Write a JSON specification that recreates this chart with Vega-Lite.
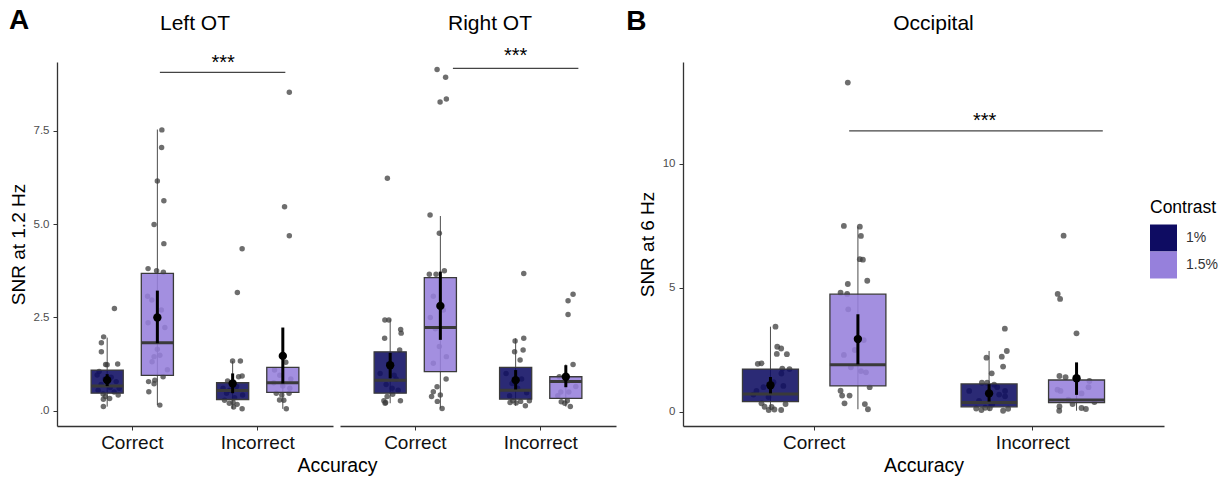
{
  "$schema": "https://vega.github.io/schema/vega-lite/v6.json",
  "padding": {"left": 9, "top": 7, "right": 5, "bottom": 2},
  "spacing": 10,
  "resolve": {"scale": {"color": "independent", "xOffset": "independent"}},
  "datasets": {
    "box": [
      {"Region": "Left OT", "Accuracy": "Correct", "Contrast": "1%", "lo": 0.11, "q1": 0.47, "med": 0.66, "q3": 1.09, "hi": 1.96, "mean": 0.82, "ciLo": 0.66, "ciHi": 0.98},
      {"Region": "Left OT", "Accuracy": "Correct", "Contrast": "1.5%", "lo": 0.15, "q1": 0.95, "med": 1.82, "q3": 3.68, "hi": 7.54, "mean": 2.5, "ciLo": 1.81, "ciHi": 3.22},
      {"Region": "Left OT", "Accuracy": "Incorrect", "Contrast": "1%", "lo": 0.05, "q1": 0.3, "med": 0.54, "q3": 0.75, "hi": 1.33, "mean": 0.73, "ciLo": 0.47, "ciHi": 1.0},
      {"Region": "Left OT", "Accuracy": "Incorrect", "Contrast": "1.5%", "lo": 0.05, "q1": 0.49, "med": 0.75, "q3": 1.16, "hi": 1.3, "mean": 1.47, "ciLo": 0.73, "ciHi": 2.23},
      {"Region": "Right OT", "Accuracy": "Correct", "Contrast": "1%", "lo": 0.2, "q1": 0.47, "med": 0.82, "q3": 1.58, "hi": 2.45, "mean": 1.22, "ciLo": 0.87, "ciHi": 1.55},
      {"Region": "Right OT", "Accuracy": "Correct", "Contrast": "1.5%", "lo": 0.06, "q1": 1.05, "med": 2.23, "q3": 3.57, "hi": 5.22, "mean": 2.81, "ciLo": 1.9, "ciHi": 3.73},
      {"Region": "Right OT", "Accuracy": "Incorrect", "Contrast": "1%", "lo": 0.13, "q1": 0.31, "med": 0.55, "q3": 1.16, "hi": 1.94, "mean": 0.82, "ciLo": 0.57, "ciHi": 1.09},
      {"Region": "Right OT", "Accuracy": "Incorrect", "Contrast": "1.5%", "lo": 0.11, "q1": 0.33, "med": 0.78, "q3": 0.91, "hi": 1.24, "mean": 0.91, "ciLo": 0.63, "ciHi": 1.22},
      {"Region": "Occipital", "Accuracy": "Correct", "Contrast": "1%", "lo": 0.08, "q1": 0.42, "med": 0.73, "q3": 1.73, "hi": 3.44, "mean": 1.08, "ciLo": 0.75, "ciHi": 1.41},
      {"Region": "Occipital", "Accuracy": "Correct", "Contrast": "1.5%", "lo": 0.11, "q1": 1.05, "med": 1.9, "q3": 4.75, "hi": 7.47, "mean": 2.94, "ciLo": 1.92, "ciHi": 3.94},
      {"Region": "Occipital", "Accuracy": "Incorrect", "Contrast": "1%", "lo": 0.05, "q1": 0.21, "med": 0.38, "q3": 1.13, "hi": 2.46, "mean": 0.75, "ciLo": 0.42, "ciHi": 1.12},
      {"Region": "Occipital", "Accuracy": "Incorrect", "Contrast": "1.5%", "lo": 0.05, "q1": 0.38, "med": 0.48, "q3": 1.29, "hi": 1.45, "mean": 1.36, "ciLo": 0.69, "ciHi": 2.0}
    ],
    "sig": [
      {"Region": "Left OT", "from": "Correct", "to": "Incorrect", "y": 9.07, "ly": 9.32, "label": "***"},
      {"Region": "Right OT", "from": "Correct", "to": "Incorrect", "y": 9.18, "ly": 9.5, "label": "***"},
      {"Region": "Occipital", "from": "Correct", "to": "Incorrect", "y": 11.33, "ly": 11.74, "label": "***"}
    ],
    "pts": [
      {"Region": "Left OT", "Accuracy": "Correct", "Contrast": "1%", "SNR": 2.74, "jitter": 0.058},
      {"Region": "Left OT", "Accuracy": "Correct", "Contrast": "1%", "SNR": 1.98, "jitter": -0.028},
      {"Region": "Left OT", "Accuracy": "Correct", "Contrast": "1%", "SNR": 1.82, "jitter": -0.046},
      {"Region": "Left OT", "Accuracy": "Correct", "Contrast": "1%", "SNR": 1.58, "jitter": -0.046},
      {"Region": "Left OT", "Accuracy": "Correct", "Contrast": "1%", "SNR": 1.24, "jitter": -0.012},
      {"Region": "Left OT", "Accuracy": "Correct", "Contrast": "1%", "SNR": 1.23, "jitter": 0},
      {"Region": "Left OT", "Accuracy": "Correct", "Contrast": "1%", "SNR": 1.25, "jitter": 0.084},
      {"Region": "Left OT", "Accuracy": "Correct", "Contrast": "1%", "SNR": 1.05, "jitter": -0.064},
      {"Region": "Left OT", "Accuracy": "Correct", "Contrast": "1%", "SNR": 0.96, "jitter": -0.08},
      {"Region": "Left OT", "Accuracy": "Correct", "Contrast": "1%", "SNR": 0.9, "jitter": 0.032},
      {"Region": "Left OT", "Accuracy": "Correct", "Contrast": "1%", "SNR": 0.85, "jitter": -0.016},
      {"Region": "Left OT", "Accuracy": "Correct", "Contrast": "1%", "SNR": 0.78, "jitter": 0.072},
      {"Region": "Left OT", "Accuracy": "Correct", "Contrast": "1%", "SNR": 0.7, "jitter": -0.048},
      {"Region": "Left OT", "Accuracy": "Correct", "Contrast": "1%", "SNR": 0.62, "jitter": 0.024},
      {"Region": "Left OT", "Accuracy": "Correct", "Contrast": "1%", "SNR": 0.55, "jitter": -0.072},
      {"Region": "Left OT", "Accuracy": "Correct", "Contrast": "1%", "SNR": 0.5, "jitter": 0.056},
      {"Region": "Left OT", "Accuracy": "Correct", "Contrast": "1%", "SNR": 0.45, "jitter": -0.032},
      {"Region": "Left OT", "Accuracy": "Correct", "Contrast": "1%", "SNR": 0.42, "jitter": 0.088},
      {"Region": "Left OT", "Accuracy": "Correct", "Contrast": "1%", "SNR": 0.38, "jitter": -0.014},
      {"Region": "Left OT", "Accuracy": "Correct", "Contrast": "1%", "SNR": 0.33, "jitter": 0.02},
      {"Region": "Left OT", "Accuracy": "Correct", "Contrast": "1%", "SNR": 0.31, "jitter": -0.03},
      {"Region": "Left OT", "Accuracy": "Correct", "Contrast": "1%", "SNR": 0.11, "jitter": -0.03},
      {"Region": "Left OT", "Accuracy": "Correct", "Contrast": "1%", "SNR": 0.6, "jitter": 0.096},
      {"Region": "Left OT", "Accuracy": "Correct", "Contrast": "1.5%", "SNR": 7.53, "jitter": 0.036},
      {"Region": "Left OT", "Accuracy": "Correct", "Contrast": "1.5%", "SNR": 7.06, "jitter": 0.034},
      {"Region": "Left OT", "Accuracy": "Correct", "Contrast": "1.5%", "SNR": 6.16, "jitter": 0},
      {"Region": "Left OT", "Accuracy": "Correct", "Contrast": "1.5%", "SNR": 5.63, "jitter": 0.052},
      {"Region": "Left OT", "Accuracy": "Correct", "Contrast": "1.5%", "SNR": 4.99, "jitter": -0.026},
      {"Region": "Left OT", "Accuracy": "Correct", "Contrast": "1.5%", "SNR": 4.48, "jitter": 0.052},
      {"Region": "Left OT", "Accuracy": "Correct", "Contrast": "1.5%", "SNR": 3.81, "jitter": -0.074},
      {"Region": "Left OT", "Accuracy": "Correct", "Contrast": "1.5%", "SNR": 3.75, "jitter": -0.006},
      {"Region": "Left OT", "Accuracy": "Correct", "Contrast": "1.5%", "SNR": 3.71, "jitter": 0.048},
      {"Region": "Left OT", "Accuracy": "Correct", "Contrast": "1.5%", "SNR": 3.07, "jitter": -0.078},
      {"Region": "Left OT", "Accuracy": "Correct", "Contrast": "1.5%", "SNR": 2.97, "jitter": -0.044},
      {"Region": "Left OT", "Accuracy": "Correct", "Contrast": "1.5%", "SNR": 2.36, "jitter": -0.074},
      {"Region": "Left OT", "Accuracy": "Correct", "Contrast": "1.5%", "SNR": 2.23, "jitter": 0.06},
      {"Region": "Left OT", "Accuracy": "Correct", "Contrast": "1.5%", "SNR": 1.65, "jitter": 0},
      {"Region": "Left OT", "Accuracy": "Correct", "Contrast": "1.5%", "SNR": 1.49, "jitter": 0.02},
      {"Region": "Left OT", "Accuracy": "Correct", "Contrast": "1.5%", "SNR": 1.45, "jitter": -0.026},
      {"Region": "Left OT", "Accuracy": "Correct", "Contrast": "1.5%", "SNR": 1.31, "jitter": -0.042},
      {"Region": "Left OT", "Accuracy": "Correct", "Contrast": "1.5%", "SNR": 0.91, "jitter": 0.046},
      {"Region": "Left OT", "Accuracy": "Correct", "Contrast": "1.5%", "SNR": 0.82, "jitter": -0.02},
      {"Region": "Left OT", "Accuracy": "Correct", "Contrast": "1.5%", "SNR": 0.78, "jitter": -0.07},
      {"Region": "Left OT", "Accuracy": "Correct", "Contrast": "1.5%", "SNR": 0.72, "jitter": -0.026},
      {"Region": "Left OT", "Accuracy": "Correct", "Contrast": "1.5%", "SNR": 0.51, "jitter": -0.068},
      {"Region": "Left OT", "Accuracy": "Correct", "Contrast": "1.5%", "SNR": 0.15, "jitter": 0.02},
      {"Region": "Left OT", "Accuracy": "Correct", "Contrast": "1.5%", "SNR": 2.7, "jitter": 0.032},
      {"Region": "Left OT", "Accuracy": "Correct", "Contrast": "1.5%", "SNR": 1.1, "jitter": 0.08},
      {"Region": "Left OT", "Accuracy": "Incorrect", "Contrast": "1%", "SNR": 4.34, "jitter": 0.076},
      {"Region": "Left OT", "Accuracy": "Incorrect", "Contrast": "1%", "SNR": 3.17, "jitter": 0.038},
      {"Region": "Left OT", "Accuracy": "Incorrect", "Contrast": "1%", "SNR": 1.33, "jitter": 0},
      {"Region": "Left OT", "Accuracy": "Incorrect", "Contrast": "1%", "SNR": 1.33, "jitter": 0.062},
      {"Region": "Left OT", "Accuracy": "Incorrect", "Contrast": "1%", "SNR": 0.93, "jitter": 0.076},
      {"Region": "Left OT", "Accuracy": "Incorrect", "Contrast": "1%", "SNR": 0.91, "jitter": 0.048},
      {"Region": "Left OT", "Accuracy": "Incorrect", "Contrast": "1%", "SNR": 0.65, "jitter": 0.032},
      {"Region": "Left OT", "Accuracy": "Incorrect", "Contrast": "1%", "SNR": 0.6, "jitter": -0.076},
      {"Region": "Left OT", "Accuracy": "Incorrect", "Contrast": "1%", "SNR": 0.55, "jitter": -0.024},
      {"Region": "Left OT", "Accuracy": "Incorrect", "Contrast": "1%", "SNR": 0.47, "jitter": -0.048},
      {"Region": "Left OT", "Accuracy": "Incorrect", "Contrast": "1%", "SNR": 0.42, "jitter": 0.08},
      {"Region": "Left OT", "Accuracy": "Incorrect", "Contrast": "1%", "SNR": 0.35, "jitter": 0.016},
      {"Region": "Left OT", "Accuracy": "Incorrect", "Contrast": "1%", "SNR": 0.22, "jitter": 0.004},
      {"Region": "Left OT", "Accuracy": "Incorrect", "Contrast": "1%", "SNR": 0.2, "jitter": -0.026},
      {"Region": "Left OT", "Accuracy": "Incorrect", "Contrast": "1%", "SNR": 0.17, "jitter": 0.036},
      {"Region": "Left OT", "Accuracy": "Incorrect", "Contrast": "1%", "SNR": 0.1, "jitter": 0.008},
      {"Region": "Left OT", "Accuracy": "Incorrect", "Contrast": "1%", "SNR": 0.05, "jitter": 0.076},
      {"Region": "Left OT", "Accuracy": "Incorrect", "Contrast": "1%", "SNR": 0.8, "jitter": -0.04},
      {"Region": "Left OT", "Accuracy": "Incorrect", "Contrast": "1%", "SNR": 0.28, "jitter": -0.064},
      {"Region": "Left OT", "Accuracy": "Incorrect", "Contrast": "1.5%", "SNR": 8.54, "jitter": 0.052},
      {"Region": "Left OT", "Accuracy": "Incorrect", "Contrast": "1.5%", "SNR": 5.47, "jitter": 0.014},
      {"Region": "Left OT", "Accuracy": "Incorrect", "Contrast": "1.5%", "SNR": 4.69, "jitter": 0.052},
      {"Region": "Left OT", "Accuracy": "Incorrect", "Contrast": "1.5%", "SNR": 1.3, "jitter": 0.024},
      {"Region": "Left OT", "Accuracy": "Incorrect", "Contrast": "1.5%", "SNR": 1.09, "jitter": -0.066},
      {"Region": "Left OT", "Accuracy": "Incorrect", "Contrast": "1.5%", "SNR": 0.95, "jitter": -0.024},
      {"Region": "Left OT", "Accuracy": "Incorrect", "Contrast": "1.5%", "SNR": 0.85, "jitter": 0.064},
      {"Region": "Left OT", "Accuracy": "Incorrect", "Contrast": "1.5%", "SNR": 0.66, "jitter": 0},
      {"Region": "Left OT", "Accuracy": "Incorrect", "Contrast": "1.5%", "SNR": 0.6, "jitter": 0.056},
      {"Region": "Left OT", "Accuracy": "Incorrect", "Contrast": "1.5%", "SNR": 0.47, "jitter": -0.052},
      {"Region": "Left OT", "Accuracy": "Incorrect", "Contrast": "1.5%", "SNR": 0.47, "jitter": 0.05},
      {"Region": "Left OT", "Accuracy": "Incorrect", "Contrast": "1.5%", "SNR": 0.42, "jitter": -0.008},
      {"Region": "Left OT", "Accuracy": "Incorrect", "Contrast": "1.5%", "SNR": 0.29, "jitter": -0.026},
      {"Region": "Left OT", "Accuracy": "Incorrect", "Contrast": "1.5%", "SNR": 0.28, "jitter": 0.008},
      {"Region": "Left OT", "Accuracy": "Incorrect", "Contrast": "1.5%", "SNR": 0.05, "jitter": 0.028},
      {"Region": "Left OT", "Accuracy": "Incorrect", "Contrast": "1.5%", "SNR": 0.75, "jitter": -0.072},
      {"Region": "Right OT", "Accuracy": "Correct", "Contrast": "1%", "SNR": 6.23, "jitter": -0.022},
      {"Region": "Right OT", "Accuracy": "Correct", "Contrast": "1%", "SNR": 2.43, "jitter": -0.042},
      {"Region": "Right OT", "Accuracy": "Correct", "Contrast": "1%", "SNR": 2.43, "jitter": -0.01},
      {"Region": "Right OT", "Accuracy": "Correct", "Contrast": "1%", "SNR": 2.18, "jitter": 0.084},
      {"Region": "Right OT", "Accuracy": "Correct", "Contrast": "1%", "SNR": 2.08, "jitter": 0.088},
      {"Region": "Right OT", "Accuracy": "Correct", "Contrast": "1%", "SNR": 1.94, "jitter": -0.044},
      {"Region": "Right OT", "Accuracy": "Correct", "Contrast": "1%", "SNR": 1.63, "jitter": 0.076},
      {"Region": "Right OT", "Accuracy": "Correct", "Contrast": "1%", "SNR": 1.25, "jitter": -0.012},
      {"Region": "Right OT", "Accuracy": "Correct", "Contrast": "1%", "SNR": 1.0, "jitter": -0.08},
      {"Region": "Right OT", "Accuracy": "Correct", "Contrast": "1%", "SNR": 0.95, "jitter": 0.032},
      {"Region": "Right OT", "Accuracy": "Correct", "Contrast": "1%", "SNR": 0.7, "jitter": -0.032},
      {"Region": "Right OT", "Accuracy": "Correct", "Contrast": "1%", "SNR": 0.6, "jitter": 0.016},
      {"Region": "Right OT", "Accuracy": "Correct", "Contrast": "1%", "SNR": 0.55, "jitter": 0.064},
      {"Region": "Right OT", "Accuracy": "Correct", "Contrast": "1%", "SNR": 0.44, "jitter": 0.02},
      {"Region": "Right OT", "Accuracy": "Correct", "Contrast": "1%", "SNR": 0.38, "jitter": -0.024},
      {"Region": "Right OT", "Accuracy": "Correct", "Contrast": "1%", "SNR": 0.27, "jitter": -0.05},
      {"Region": "Right OT", "Accuracy": "Correct", "Contrast": "1%", "SNR": 0.27, "jitter": 0.082},
      {"Region": "Right OT", "Accuracy": "Correct", "Contrast": "1%", "SNR": 0.22, "jitter": -0.036},
      {"Region": "Right OT", "Accuracy": "Correct", "Contrast": "1%", "SNR": 0.2, "jitter": -0.04},
      {"Region": "Right OT", "Accuracy": "Correct", "Contrast": "1%", "SNR": 0.85, "jitter": 0.048},
      {"Region": "Right OT", "Accuracy": "Correct", "Contrast": "1.5%", "SNR": 9.15, "jitter": -0.026},
      {"Region": "Right OT", "Accuracy": "Correct", "Contrast": "1.5%", "SNR": 8.94, "jitter": 0.042},
      {"Region": "Right OT", "Accuracy": "Correct", "Contrast": "1.5%", "SNR": 8.28, "jitter": -0.002},
      {"Region": "Right OT", "Accuracy": "Correct", "Contrast": "1.5%", "SNR": 8.36, "jitter": 0.048},
      {"Region": "Right OT", "Accuracy": "Correct", "Contrast": "1.5%", "SNR": 5.25, "jitter": -0.082},
      {"Region": "Right OT", "Accuracy": "Correct", "Contrast": "1.5%", "SNR": 4.76, "jitter": -0.008},
      {"Region": "Right OT", "Accuracy": "Correct", "Contrast": "1.5%", "SNR": 3.66, "jitter": -0.088},
      {"Region": "Right OT", "Accuracy": "Correct", "Contrast": "1.5%", "SNR": 3.66, "jitter": -0.034},
      {"Region": "Right OT", "Accuracy": "Correct", "Contrast": "1.5%", "SNR": 3.75, "jitter": 0.032},
      {"Region": "Right OT", "Accuracy": "Correct", "Contrast": "1.5%", "SNR": 3.07, "jitter": -0.056},
      {"Region": "Right OT", "Accuracy": "Correct", "Contrast": "1.5%", "SNR": 2.7, "jitter": 0.024},
      {"Region": "Right OT", "Accuracy": "Correct", "Contrast": "1.5%", "SNR": 2.5, "jitter": -0.08},
      {"Region": "Right OT", "Accuracy": "Correct", "Contrast": "1.5%", "SNR": 2.2, "jitter": -0.04},
      {"Region": "Right OT", "Accuracy": "Correct", "Contrast": "1.5%", "SNR": 1.72, "jitter": -0.008},
      {"Region": "Right OT", "Accuracy": "Correct", "Contrast": "1.5%", "SNR": 1.45, "jitter": 0.048},
      {"Region": "Right OT", "Accuracy": "Correct", "Contrast": "1.5%", "SNR": 1.27, "jitter": -0.056},
      {"Region": "Right OT", "Accuracy": "Correct", "Contrast": "1.5%", "SNR": 0.85, "jitter": 0.046},
      {"Region": "Right OT", "Accuracy": "Correct", "Contrast": "1.5%", "SNR": 0.64, "jitter": -0.026},
      {"Region": "Right OT", "Accuracy": "Correct", "Contrast": "1.5%", "SNR": 0.51, "jitter": -0.056},
      {"Region": "Right OT", "Accuracy": "Correct", "Contrast": "1.5%", "SNR": 0.42, "jitter": 0},
      {"Region": "Right OT", "Accuracy": "Correct", "Contrast": "1.5%", "SNR": 0.38, "jitter": -0.07},
      {"Region": "Right OT", "Accuracy": "Correct", "Contrast": "1.5%", "SNR": 0.25, "jitter": -0.024},
      {"Region": "Right OT", "Accuracy": "Correct", "Contrast": "1.5%", "SNR": 0.06, "jitter": 0.014},
      {"Region": "Right OT", "Accuracy": "Incorrect", "Contrast": "1%", "SNR": 3.68, "jitter": 0.065},
      {"Region": "Right OT", "Accuracy": "Incorrect", "Contrast": "1%", "SNR": 1.87, "jitter": -0.004},
      {"Region": "Right OT", "Accuracy": "Incorrect", "Contrast": "1%", "SNR": 1.94, "jitter": 0.065},
      {"Region": "Right OT", "Accuracy": "Incorrect", "Contrast": "1%", "SNR": 1.58, "jitter": -0.008},
      {"Region": "Right OT", "Accuracy": "Incorrect", "Contrast": "1%", "SNR": 1.63, "jitter": 0.06},
      {"Region": "Right OT", "Accuracy": "Incorrect", "Contrast": "1%", "SNR": 1.36, "jitter": 0.036},
      {"Region": "Right OT", "Accuracy": "Incorrect", "Contrast": "1%", "SNR": 1.0, "jitter": -0.076},
      {"Region": "Right OT", "Accuracy": "Incorrect", "Contrast": "1%", "SNR": 0.85, "jitter": 0.048},
      {"Region": "Right OT", "Accuracy": "Incorrect", "Contrast": "1%", "SNR": 0.73, "jitter": -0.028},
      {"Region": "Right OT", "Accuracy": "Incorrect", "Contrast": "1%", "SNR": 0.6, "jitter": 0.016},
      {"Region": "Right OT", "Accuracy": "Incorrect", "Contrast": "1%", "SNR": 0.48, "jitter": 0.088},
      {"Region": "Right OT", "Accuracy": "Incorrect", "Contrast": "1%", "SNR": 0.4, "jitter": -0.048},
      {"Region": "Right OT", "Accuracy": "Incorrect", "Contrast": "1%", "SNR": 0.27, "jitter": -0.023},
      {"Region": "Right OT", "Accuracy": "Incorrect", "Contrast": "1%", "SNR": 0.21, "jitter": 0.004},
      {"Region": "Right OT", "Accuracy": "Incorrect", "Contrast": "1%", "SNR": 0.25, "jitter": 0.04},
      {"Region": "Right OT", "Accuracy": "Incorrect", "Contrast": "1%", "SNR": 0.13, "jitter": 0.078},
      {"Region": "Right OT", "Accuracy": "Incorrect", "Contrast": "1%", "SNR": 0.27, "jitter": 0.11},
      {"Region": "Right OT", "Accuracy": "Incorrect", "Contrast": "1%", "SNR": 0.22, "jitter": -0.044},
      {"Region": "Right OT", "Accuracy": "Incorrect", "Contrast": "1.5%", "SNR": 3.12, "jitter": 0.058},
      {"Region": "Right OT", "Accuracy": "Incorrect", "Contrast": "1.5%", "SNR": 2.95, "jitter": 0.018},
      {"Region": "Right OT", "Accuracy": "Incorrect", "Contrast": "1.5%", "SNR": 2.58, "jitter": 0.018},
      {"Region": "Right OT", "Accuracy": "Incorrect", "Contrast": "1.5%", "SNR": 1.24, "jitter": 0.058},
      {"Region": "Right OT", "Accuracy": "Incorrect", "Contrast": "1.5%", "SNR": 0.91, "jitter": -0.052},
      {"Region": "Right OT", "Accuracy": "Incorrect", "Contrast": "1.5%", "SNR": 0.65, "jitter": 0.08},
      {"Region": "Right OT", "Accuracy": "Incorrect", "Contrast": "1.5%", "SNR": 0.5, "jitter": -0.04},
      {"Region": "Right OT", "Accuracy": "Incorrect", "Contrast": "1.5%", "SNR": 0.5, "jitter": 0.024},
      {"Region": "Right OT", "Accuracy": "Incorrect", "Contrast": "1.5%", "SNR": 0.4, "jitter": -0.064},
      {"Region": "Right OT", "Accuracy": "Incorrect", "Contrast": "1.5%", "SNR": 0.24, "jitter": -0.036},
      {"Region": "Right OT", "Accuracy": "Incorrect", "Contrast": "1.5%", "SNR": 0.27, "jitter": 0.012},
      {"Region": "Right OT", "Accuracy": "Incorrect", "Contrast": "1.5%", "SNR": 0.11, "jitter": 0.036},
      {"Region": "Right OT", "Accuracy": "Incorrect", "Contrast": "1.5%", "SNR": 0.2, "jitter": -0.008},
      {"Region": "Right OT", "Accuracy": "Incorrect", "Contrast": "1.5%", "SNR": 0.78, "jitter": 0.016},
      {"Region": "Occipital", "Accuracy": "Correct", "Contrast": "1%", "SNR": 3.44, "jitter": 0.023},
      {"Region": "Occipital", "Accuracy": "Correct", "Contrast": "1%", "SNR": 2.63, "jitter": 0.031},
      {"Region": "Occipital", "Accuracy": "Correct", "Contrast": "1%", "SNR": 2.56, "jitter": 0.049},
      {"Region": "Occipital", "Accuracy": "Correct", "Contrast": "1%", "SNR": 2.34, "jitter": 0.029},
      {"Region": "Occipital", "Accuracy": "Correct", "Contrast": "1%", "SNR": 2.33, "jitter": 0.075},
      {"Region": "Occipital", "Accuracy": "Correct", "Contrast": "1%", "SNR": 1.94, "jitter": -0.058},
      {"Region": "Occipital", "Accuracy": "Correct", "Contrast": "1%", "SNR": 1.96, "jitter": -0.041},
      {"Region": "Occipital", "Accuracy": "Correct", "Contrast": "1%", "SNR": 1.75, "jitter": 0.054},
      {"Region": "Occipital", "Accuracy": "Correct", "Contrast": "1%", "SNR": 1.73, "jitter": 0.087},
      {"Region": "Occipital", "Accuracy": "Correct", "Contrast": "1%", "SNR": 1.55, "jitter": 0.05},
      {"Region": "Occipital", "Accuracy": "Correct", "Contrast": "1%", "SNR": 1.2, "jitter": 0.014},
      {"Region": "Occipital", "Accuracy": "Correct", "Contrast": "1%", "SNR": 1.05, "jitter": 0.059},
      {"Region": "Occipital", "Accuracy": "Correct", "Contrast": "1%", "SNR": 1.0, "jitter": -0.032},
      {"Region": "Occipital", "Accuracy": "Correct", "Contrast": "1%", "SNR": 0.7, "jitter": -0.078},
      {"Region": "Occipital", "Accuracy": "Correct", "Contrast": "1%", "SNR": 0.6, "jitter": -0.009},
      {"Region": "Occipital", "Accuracy": "Correct", "Contrast": "1%", "SNR": 0.35, "jitter": -0.041},
      {"Region": "Occipital", "Accuracy": "Correct", "Contrast": "1%", "SNR": 0.32, "jitter": 0.069},
      {"Region": "Occipital", "Accuracy": "Correct", "Contrast": "1%", "SNR": 0.21, "jitter": -0.027},
      {"Region": "Occipital", "Accuracy": "Correct", "Contrast": "1%", "SNR": 0.2, "jitter": 0.005},
      {"Region": "Occipital", "Accuracy": "Correct", "Contrast": "1%", "SNR": 0.1, "jitter": 0.018},
      {"Region": "Occipital", "Accuracy": "Correct", "Contrast": "1%", "SNR": 0.08, "jitter": -0.008},
      {"Region": "Occipital", "Accuracy": "Correct", "Contrast": "1%", "SNR": 0.08, "jitter": 0.049},
      {"Region": "Occipital", "Accuracy": "Correct", "Contrast": "1%", "SNR": 0.85, "jitter": -0.064},
      {"Region": "Occipital", "Accuracy": "Correct", "Contrast": "1.5%", "SNR": 13.28, "jitter": -0.046},
      {"Region": "Occipital", "Accuracy": "Correct", "Contrast": "1.5%", "SNR": 7.5, "jitter": -0.064},
      {"Region": "Occipital", "Accuracy": "Correct", "Contrast": "1.5%", "SNR": 7.47, "jitter": 0.009},
      {"Region": "Occipital", "Accuracy": "Correct", "Contrast": "1.5%", "SNR": 7.1, "jitter": 0.014},
      {"Region": "Occipital", "Accuracy": "Correct", "Contrast": "1.5%", "SNR": 6.16, "jitter": 0.009},
      {"Region": "Occipital", "Accuracy": "Correct", "Contrast": "1.5%", "SNR": 6.14, "jitter": 0.023},
      {"Region": "Occipital", "Accuracy": "Correct", "Contrast": "1.5%", "SNR": 5.16, "jitter": -0.046},
      {"Region": "Occipital", "Accuracy": "Correct", "Contrast": "1.5%", "SNR": 5.29, "jitter": 0.043},
      {"Region": "Occipital", "Accuracy": "Correct", "Contrast": "1.5%", "SNR": 4.81, "jitter": -0.079},
      {"Region": "Occipital", "Accuracy": "Correct", "Contrast": "1.5%", "SNR": 4.76, "jitter": -0.049},
      {"Region": "Occipital", "Accuracy": "Correct", "Contrast": "1.5%", "SNR": 4.14, "jitter": -0.044},
      {"Region": "Occipital", "Accuracy": "Correct", "Contrast": "1.5%", "SNR": 2.9, "jitter": 0.027},
      {"Region": "Occipital", "Accuracy": "Correct", "Contrast": "1.5%", "SNR": 2.5, "jitter": -0.014},
      {"Region": "Occipital", "Accuracy": "Correct", "Contrast": "1.5%", "SNR": 2.3, "jitter": -0.064},
      {"Region": "Occipital", "Accuracy": "Correct", "Contrast": "1.5%", "SNR": 1.8, "jitter": -0.032},
      {"Region": "Occipital", "Accuracy": "Correct", "Contrast": "1.5%", "SNR": 1.65, "jitter": 0.014},
      {"Region": "Occipital", "Accuracy": "Correct", "Contrast": "1.5%", "SNR": 1.6, "jitter": 0.037},
      {"Region": "Occipital", "Accuracy": "Correct", "Contrast": "1.5%", "SNR": 1.0, "jitter": 0.054},
      {"Region": "Occipital", "Accuracy": "Correct", "Contrast": "1.5%", "SNR": 0.86, "jitter": -0.079},
      {"Region": "Occipital", "Accuracy": "Correct", "Contrast": "1.5%", "SNR": 0.66, "jitter": -0.072},
      {"Region": "Occipital", "Accuracy": "Correct", "Contrast": "1.5%", "SNR": 0.66, "jitter": -0.038},
      {"Region": "Occipital", "Accuracy": "Correct", "Contrast": "1.5%", "SNR": 0.35, "jitter": -0.061},
      {"Region": "Occipital", "Accuracy": "Correct", "Contrast": "1.5%", "SNR": 0.32, "jitter": 0.032},
      {"Region": "Occipital", "Accuracy": "Correct", "Contrast": "1.5%", "SNR": 0.11, "jitter": 0.046},
      {"Region": "Occipital", "Accuracy": "Incorrect", "Contrast": "1%", "SNR": 3.36, "jitter": 0.072},
      {"Region": "Occipital", "Accuracy": "Incorrect", "Contrast": "1%", "SNR": 2.46, "jitter": 0.081},
      {"Region": "Occipital", "Accuracy": "Incorrect", "Contrast": "1%", "SNR": 2.19, "jitter": -0.012},
      {"Region": "Occipital", "Accuracy": "Incorrect", "Contrast": "1%", "SNR": 2.23, "jitter": 0.058},
      {"Region": "Occipital", "Accuracy": "Incorrect", "Contrast": "1%", "SNR": 1.83, "jitter": 0.064},
      {"Region": "Occipital", "Accuracy": "Incorrect", "Contrast": "1%", "SNR": 1.56, "jitter": 0.012},
      {"Region": "Occipital", "Accuracy": "Incorrect", "Contrast": "1%", "SNR": 1.18, "jitter": -0.033},
      {"Region": "Occipital", "Accuracy": "Incorrect", "Contrast": "1%", "SNR": 1.18, "jitter": -0.009},
      {"Region": "Occipital", "Accuracy": "Incorrect", "Contrast": "1%", "SNR": 1.1, "jitter": 0.023},
      {"Region": "Occipital", "Accuracy": "Incorrect", "Contrast": "1%", "SNR": 1.0, "jitter": 0.037},
      {"Region": "Occipital", "Accuracy": "Incorrect", "Contrast": "1%", "SNR": 0.85, "jitter": -0.091},
      {"Region": "Occipital", "Accuracy": "Incorrect", "Contrast": "1%", "SNR": 0.85, "jitter": 0.073},
      {"Region": "Occipital", "Accuracy": "Incorrect", "Contrast": "1%", "SNR": 0.7, "jitter": 0.046},
      {"Region": "Occipital", "Accuracy": "Incorrect", "Contrast": "1%", "SNR": 0.63, "jitter": 0.073},
      {"Region": "Occipital", "Accuracy": "Incorrect", "Contrast": "1%", "SNR": 0.45, "jitter": -0.046},
      {"Region": "Occipital", "Accuracy": "Incorrect", "Contrast": "1%", "SNR": 0.3, "jitter": 0.014},
      {"Region": "Occipital", "Accuracy": "Incorrect", "Contrast": "1%", "SNR": 0.17, "jitter": -0.018},
      {"Region": "Occipital", "Accuracy": "Incorrect", "Contrast": "1%", "SNR": 0.15, "jitter": 0.003},
      {"Region": "Occipital", "Accuracy": "Incorrect", "Contrast": "1%", "SNR": 0.14, "jitter": -0.059},
      {"Region": "Occipital", "Accuracy": "Incorrect", "Contrast": "1%", "SNR": 0.13, "jitter": 0.087},
      {"Region": "Occipital", "Accuracy": "Incorrect", "Contrast": "1%", "SNR": 0.08, "jitter": -0.035},
      {"Region": "Occipital", "Accuracy": "Incorrect", "Contrast": "1%", "SNR": 0.05, "jitter": 0.064},
      {"Region": "Occipital", "Accuracy": "Incorrect", "Contrast": "1.5%", "SNR": 7.11, "jitter": -0.059},
      {"Region": "Occipital", "Accuracy": "Incorrect", "Contrast": "1.5%", "SNR": 4.76, "jitter": -0.086},
      {"Region": "Occipital", "Accuracy": "Incorrect", "Contrast": "1.5%", "SNR": 4.56, "jitter": -0.075},
      {"Region": "Occipital", "Accuracy": "Incorrect", "Contrast": "1.5%", "SNR": 3.17, "jitter": 0},
      {"Region": "Occipital", "Accuracy": "Incorrect", "Contrast": "1.5%", "SNR": 1.45, "jitter": -0.078},
      {"Region": "Occipital", "Accuracy": "Incorrect", "Contrast": "1.5%", "SNR": 1.4, "jitter": -0.05},
      {"Region": "Occipital", "Accuracy": "Incorrect", "Contrast": "1.5%", "SNR": 1.25, "jitter": 0.059},
      {"Region": "Occipital", "Accuracy": "Incorrect", "Contrast": "1.5%", "SNR": 1.0, "jitter": 0.055},
      {"Region": "Occipital", "Accuracy": "Incorrect", "Contrast": "1.5%", "SNR": 0.9, "jitter": -0.087},
      {"Region": "Occipital", "Accuracy": "Incorrect", "Contrast": "1.5%", "SNR": 0.85, "jitter": -0.073},
      {"Region": "Occipital", "Accuracy": "Incorrect", "Contrast": "1.5%", "SNR": 0.75, "jitter": 0.023},
      {"Region": "Occipital", "Accuracy": "Incorrect", "Contrast": "1.5%", "SNR": 0.5, "jitter": -0.037},
      {"Region": "Occipital", "Accuracy": "Incorrect", "Contrast": "1.5%", "SNR": 0.32, "jitter": -0.018},
      {"Region": "Occipital", "Accuracy": "Incorrect", "Contrast": "1.5%", "SNR": 0.22, "jitter": -0.078},
      {"Region": "Occipital", "Accuracy": "Incorrect", "Contrast": "1.5%", "SNR": 0.16, "jitter": 0.023},
      {"Region": "Occipital", "Accuracy": "Incorrect", "Contrast": "1.5%", "SNR": 0.12, "jitter": 0.043},
      {"Region": "Occipital", "Accuracy": "Incorrect", "Contrast": "1.5%", "SNR": 0.05, "jitter": -0.079},
      {"Region": "Occipital", "Accuracy": "Incorrect", "Contrast": "1.5%", "SNR": 0.4, "jitter": 0.082}
    ]
  },
  "hconcat": [
    {
      "title": {"text": "A", "anchor": "start", "fontSize": 28, "fontWeight": "bold", "offset": -22},
      "spacing": 7,
      "bounds": "flush",
      "resolve": {"scale": {"xOffset": "independent"}},
      "hconcat": [
        {
          "width": 276, "height": 364,
          "title": {"text": "Left OT", "offset": 19},
          "resolve": {"scale": {"xOffset": "independent"}},
          "layer": [
            {
              "data": {"name": "box"},
              "transform": [{"filter": "datum.Region === 'Left OT'"}],
              "mark": {"type": "rule", "color": "#4d4d4d", "strokeWidth": 1},
              "encoding": {
                "x": {"field": "Accuracy", "type": "nominal", "sort": ["Correct", "Incorrect"], "scale": {"paddingInner": 0, "paddingOuter": 0.1}, "axis": {"title": "Accuracy", "labelAngle": 0, "titleX": 280}},
                "xOffset": {"field": "Contrast", "type": "nominal", "sort": ["1%", "1.5%"], "scale": {"type": "band", "paddingInner": 0.36, "paddingOuter": 0.43}},
                "y": {"field": "lo", "type": "quantitative", "scale": {"domain": [-0.41, 9.35], "nice": false, "zero": false}, "axis": {"title": "SNR at 1.2 Hz", "values": [0, 2.5, 5, 7.5], "labelExpr": "datum.value == 0 ? '.0' : format(datum.value, '.1f')"}},
                "y2": {"field": "hi"}
              }
            },
            {
              "data": {"name": "pts"},
              "transform": [{"filter": "datum.Region === 'Left OT' && datum.Contrast === '1%'"}],
              "mark": {"type": "circle", "size": 30, "color": "#3d3d3d", "opacity": 0.75},
              "encoding": {
                "x": {"field": "Accuracy", "type": "nominal", "sort": ["Correct", "Incorrect"], "scale": {"paddingInner": 0, "paddingOuter": 0.1}, "axis": {"title": "Accuracy", "labelAngle": 0, "titleX": 280}},
                "xOffset": {"field": "jitter", "type": "quantitative", "scale": {"domain": [-0.15, 0.15], "range": [18.8, 56.4], "zero": false, "nice": false}},
                "y": {"field": "SNR", "type": "quantitative", "scale": {"domain": [-0.41, 9.35], "nice": false, "zero": false}, "axis": {"title": "SNR at 1.2 Hz", "values": [0, 2.5, 5, 7.5], "labelExpr": "datum.value == 0 ? '.0' : format(datum.value, '.1f')"}}
              }
            },
            {
              "data": {"name": "pts"},
              "transform": [{"filter": "datum.Region === 'Left OT' && datum.Contrast === '1.5%'"}],
              "mark": {"type": "circle", "size": 30, "color": "#3d3d3d", "opacity": 0.75},
              "encoding": {
                "x": {"field": "Accuracy", "type": "nominal", "sort": ["Correct", "Incorrect"], "scale": {"paddingInner": 0, "paddingOuter": 0.1}, "axis": {"title": "Accuracy", "labelAngle": 0, "titleX": 280}},
                "xOffset": {"field": "jitter", "type": "quantitative", "scale": {"domain": [-0.15, 0.15], "range": [69, 106.6], "zero": false, "nice": false}},
                "y": {"field": "SNR", "type": "quantitative", "scale": {"domain": [-0.41, 9.35], "nice": false, "zero": false}, "axis": {"title": "SNR at 1.2 Hz", "values": [0, 2.5, 5, 7.5], "labelExpr": "datum.value == 0 ? '.0' : format(datum.value, '.1f')"}}
              }
            },
            {
              "data": {"name": "box"},
              "transform": [{"filter": "datum.Region === 'Left OT'"}],
              "mark": {"type": "bar", "fillOpacity": 0.88, "stroke": "#3a3a3a", "strokeWidth": 1.3},
              "encoding": {
                "x": {"field": "Accuracy", "type": "nominal", "sort": ["Correct", "Incorrect"], "scale": {"paddingInner": 0, "paddingOuter": 0.1}, "axis": {"title": "Accuracy", "labelAngle": 0, "titleX": 280}},
                "xOffset": {"field": "Contrast", "type": "nominal", "sort": ["1%", "1.5%"], "scale": {"type": "band", "paddingInner": 0.36, "paddingOuter": 0.43}},
                "y": {"field": "q1", "type": "quantitative", "scale": {"domain": [-0.41, 9.35], "nice": false, "zero": false}, "axis": {"title": "SNR at 1.2 Hz", "values": [0, 2.5, 5, 7.5], "labelExpr": "datum.value == 0 ? '.0' : format(datum.value, '.1f')"}},
                "y2": {"field": "q3"},
                "color": {"field": "Contrast", "type": "nominal", "scale": {"domain": ["1%", "1.5%"], "range": ["#0e0c62", "#9680dc"]}, "legend": null}
              }
            },
            {
              "data": {"name": "box"},
              "transform": [{"filter": "datum.Region === 'Left OT'"}],
              "mark": {"type": "tick", "color": "#3a3a3a", "thickness": 3, "size": 32, "opacity": 1},
              "encoding": {
                "x": {"field": "Accuracy", "type": "nominal", "sort": ["Correct", "Incorrect"], "scale": {"paddingInner": 0, "paddingOuter": 0.1}, "axis": {"title": "Accuracy", "labelAngle": 0, "titleX": 280}},
                "xOffset": {"field": "Contrast", "type": "nominal", "sort": ["1%", "1.5%"], "scale": {"type": "band", "paddingInner": 0.36, "paddingOuter": 0.43}},
                "y": {"field": "med", "type": "quantitative", "scale": {"domain": [-0.41, 9.35], "nice": false, "zero": false}, "axis": {"title": "SNR at 1.2 Hz", "values": [0, 2.5, 5, 7.5], "labelExpr": "datum.value == 0 ? '.0' : format(datum.value, '.1f')"}}
              }
            },
            {
              "data": {"name": "box"},
              "transform": [{"filter": "datum.Region === 'Left OT'"}],
              "mark": {"type": "rule", "color": "#000000", "strokeWidth": 3},
              "encoding": {
                "x": {"field": "Accuracy", "type": "nominal", "sort": ["Correct", "Incorrect"], "scale": {"paddingInner": 0, "paddingOuter": 0.1}, "axis": {"title": "Accuracy", "labelAngle": 0, "titleX": 280}},
                "xOffset": {"field": "Contrast", "type": "nominal", "sort": ["1%", "1.5%"], "scale": {"type": "band", "paddingInner": 0.36, "paddingOuter": 0.43}},
                "y": {"field": "ciLo", "type": "quantitative", "scale": {"domain": [-0.41, 9.35], "nice": false, "zero": false}, "axis": {"title": "SNR at 1.2 Hz", "values": [0, 2.5, 5, 7.5], "labelExpr": "datum.value == 0 ? '.0' : format(datum.value, '.1f')"}},
                "y2": {"field": "ciHi"}
              }
            },
            {
              "data": {"name": "box"},
              "transform": [{"filter": "datum.Region === 'Left OT'"}],
              "mark": {"type": "circle", "size": 70, "color": "#000000", "opacity": 1},
              "encoding": {
                "x": {"field": "Accuracy", "type": "nominal", "sort": ["Correct", "Incorrect"], "scale": {"paddingInner": 0, "paddingOuter": 0.1}, "axis": {"title": "Accuracy", "labelAngle": 0, "titleX": 280}},
                "xOffset": {"field": "Contrast", "type": "nominal", "sort": ["1%", "1.5%"], "scale": {"type": "band", "paddingInner": 0.36, "paddingOuter": 0.43}},
                "y": {"field": "mean", "type": "quantitative", "scale": {"domain": [-0.41, 9.35], "nice": false, "zero": false}, "axis": {"title": "SNR at 1.2 Hz", "values": [0, 2.5, 5, 7.5], "labelExpr": "datum.value == 0 ? '.0' : format(datum.value, '.1f')"}}
              }
            },
            {
              "data": {"name": "sig"},
              "transform": [{"filter": "datum.Region === 'Left OT'"}],
              "mark": {"type": "rule", "color": "#444444", "strokeWidth": 1.2},
              "encoding": {
                "x": {"field": "from", "type": "nominal", "bandPosition": 0.72, "sort": ["Correct", "Incorrect"], "scale": {"paddingInner": 0, "paddingOuter": 0.1}, "axis": {"title": "Accuracy", "labelAngle": 0, "titleX": 280}},
                "x2": {"field": "to", "bandPosition": 0.72},
                "y": {"field": "y", "type": "quantitative", "scale": {"domain": [-0.41, 9.35], "nice": false, "zero": false}, "axis": {"title": "SNR at 1.2 Hz", "values": [0, 2.5, 5, 7.5], "labelExpr": "datum.value == 0 ? '.0' : format(datum.value, '.1f')"}}
              }
            },
            {
              "data": {"name": "sig"},
              "transform": [{"filter": "datum.Region === 'Left OT'"}],
              "mark": {"type": "text", "fontSize": 20, "baseline": "middle", "color": "#000000"},
              "encoding": {
                "x": {"field": "to", "type": "nominal", "bandPosition": 0.224, "sort": ["Correct", "Incorrect"], "scale": {"paddingInner": 0, "paddingOuter": 0.1}, "axis": {"title": "Accuracy", "labelAngle": 0, "titleX": 280}},
                "y": {"field": "ly", "type": "quantitative", "scale": {"domain": [-0.41, 9.35], "nice": false, "zero": false}, "axis": {"title": "SNR at 1.2 Hz", "values": [0, 2.5, 5, 7.5], "labelExpr": "datum.value == 0 ? '.0' : format(datum.value, '.1f')"}},
                "text": {"field": "label"}
              }
            }
          ]
        },
        {
          "width": 276, "height": 364,
          "title": {"text": "Right OT", "offset": 12, "dx": 12},
          "resolve": {"scale": {"xOffset": "independent"}},
          "layer": [
            {
              "data": {"name": "box"},
              "transform": [{"filter": "datum.Region === 'Right OT'"}],
              "mark": {"type": "rule", "color": "#4d4d4d", "strokeWidth": 1},
              "encoding": {
                "x": {"field": "Accuracy", "type": "nominal", "sort": ["Correct", "Incorrect"], "scale": {"paddingInner": 0, "paddingOuter": 0.1}, "axis": {"title": null, "labelAngle": 0}},
                "xOffset": {"field": "Contrast", "type": "nominal", "sort": ["1%", "1.5%"], "scale": {"type": "band", "paddingInner": 0.36, "paddingOuter": 0.43}},
                "y": {"field": "lo", "type": "quantitative", "scale": {"domain": [-0.41, 9.35], "nice": false, "zero": false}, "axis": null},
                "y2": {"field": "hi"}
              }
            },
            {
              "data": {"name": "pts"},
              "transform": [{"filter": "datum.Region === 'Right OT' && datum.Contrast === '1%'"}],
              "mark": {"type": "circle", "size": 30, "color": "#3d3d3d", "opacity": 0.75},
              "encoding": {
                "x": {"field": "Accuracy", "type": "nominal", "sort": ["Correct", "Incorrect"], "scale": {"paddingInner": 0, "paddingOuter": 0.1}, "axis": {"title": null, "labelAngle": 0}},
                "xOffset": {"field": "jitter", "type": "quantitative", "scale": {"domain": [-0.15, 0.15], "range": [18.8, 56.4], "zero": false, "nice": false}},
                "y": {"field": "SNR", "type": "quantitative", "scale": {"domain": [-0.41, 9.35], "nice": false, "zero": false}, "axis": null}
              }
            },
            {
              "data": {"name": "pts"},
              "transform": [{"filter": "datum.Region === 'Right OT' && datum.Contrast === '1.5%'"}],
              "mark": {"type": "circle", "size": 30, "color": "#3d3d3d", "opacity": 0.75},
              "encoding": {
                "x": {"field": "Accuracy", "type": "nominal", "sort": ["Correct", "Incorrect"], "scale": {"paddingInner": 0, "paddingOuter": 0.1}, "axis": {"title": null, "labelAngle": 0}},
                "xOffset": {"field": "jitter", "type": "quantitative", "scale": {"domain": [-0.15, 0.15], "range": [69, 106.6], "zero": false, "nice": false}},
                "y": {"field": "SNR", "type": "quantitative", "scale": {"domain": [-0.41, 9.35], "nice": false, "zero": false}, "axis": null}
              }
            },
            {
              "data": {"name": "box"},
              "transform": [{"filter": "datum.Region === 'Right OT'"}],
              "mark": {"type": "bar", "fillOpacity": 0.88, "stroke": "#3a3a3a", "strokeWidth": 1.3},
              "encoding": {
                "x": {"field": "Accuracy", "type": "nominal", "sort": ["Correct", "Incorrect"], "scale": {"paddingInner": 0, "paddingOuter": 0.1}, "axis": {"title": null, "labelAngle": 0}},
                "xOffset": {"field": "Contrast", "type": "nominal", "sort": ["1%", "1.5%"], "scale": {"type": "band", "paddingInner": 0.36, "paddingOuter": 0.43}},
                "y": {"field": "q1", "type": "quantitative", "scale": {"domain": [-0.41, 9.35], "nice": false, "zero": false}, "axis": null},
                "y2": {"field": "q3"},
                "color": {"field": "Contrast", "type": "nominal", "scale": {"domain": ["1%", "1.5%"], "range": ["#0e0c62", "#9680dc"]}, "legend": null}
              }
            },
            {
              "data": {"name": "box"},
              "transform": [{"filter": "datum.Region === 'Right OT'"}],
              "mark": {"type": "tick", "color": "#3a3a3a", "thickness": 3, "size": 32, "opacity": 1},
              "encoding": {
                "x": {"field": "Accuracy", "type": "nominal", "sort": ["Correct", "Incorrect"], "scale": {"paddingInner": 0, "paddingOuter": 0.1}, "axis": {"title": null, "labelAngle": 0}},
                "xOffset": {"field": "Contrast", "type": "nominal", "sort": ["1%", "1.5%"], "scale": {"type": "band", "paddingInner": 0.36, "paddingOuter": 0.43}},
                "y": {"field": "med", "type": "quantitative", "scale": {"domain": [-0.41, 9.35], "nice": false, "zero": false}, "axis": null}
              }
            },
            {
              "data": {"name": "box"},
              "transform": [{"filter": "datum.Region === 'Right OT'"}],
              "mark": {"type": "rule", "color": "#000000", "strokeWidth": 3},
              "encoding": {
                "x": {"field": "Accuracy", "type": "nominal", "sort": ["Correct", "Incorrect"], "scale": {"paddingInner": 0, "paddingOuter": 0.1}, "axis": {"title": null, "labelAngle": 0}},
                "xOffset": {"field": "Contrast", "type": "nominal", "sort": ["1%", "1.5%"], "scale": {"type": "band", "paddingInner": 0.36, "paddingOuter": 0.43}},
                "y": {"field": "ciLo", "type": "quantitative", "scale": {"domain": [-0.41, 9.35], "nice": false, "zero": false}, "axis": null},
                "y2": {"field": "ciHi"}
              }
            },
            {
              "data": {"name": "box"},
              "transform": [{"filter": "datum.Region === 'Right OT'"}],
              "mark": {"type": "circle", "size": 70, "color": "#000000", "opacity": 1},
              "encoding": {
                "x": {"field": "Accuracy", "type": "nominal", "sort": ["Correct", "Incorrect"], "scale": {"paddingInner": 0, "paddingOuter": 0.1}, "axis": {"title": null, "labelAngle": 0}},
                "xOffset": {"field": "Contrast", "type": "nominal", "sort": ["1%", "1.5%"], "scale": {"type": "band", "paddingInner": 0.36, "paddingOuter": 0.43}},
                "y": {"field": "mean", "type": "quantitative", "scale": {"domain": [-0.41, 9.35], "nice": false, "zero": false}, "axis": null}
              }
            },
            {
              "data": {"name": "sig"},
              "transform": [{"filter": "datum.Region === 'Right OT'"}],
              "mark": {"type": "rule", "color": "#444444", "strokeWidth": 1.2},
              "encoding": {
                "x": {"field": "from", "type": "nominal", "bandPosition": 0.8, "sort": ["Correct", "Incorrect"], "scale": {"paddingInner": 0, "paddingOuter": 0.1}, "axis": {"title": null, "labelAngle": 0}},
                "x2": {"field": "to", "bandPosition": 0.8},
                "y": {"field": "y", "type": "quantitative", "scale": {"domain": [-0.41, 9.35], "nice": false, "zero": false}, "axis": null}
              }
            },
            {
              "data": {"name": "sig"},
              "transform": [{"filter": "datum.Region === 'Right OT'"}],
              "mark": {"type": "text", "fontSize": 20, "baseline": "middle", "color": "#000000"},
              "encoding": {
                "x": {"field": "to", "type": "nominal", "bandPosition": 0.3, "sort": ["Correct", "Incorrect"], "scale": {"paddingInner": 0, "paddingOuter": 0.1}, "axis": {"title": null, "labelAngle": 0}},
                "y": {"field": "ly", "type": "quantitative", "scale": {"domain": [-0.41, 9.35], "nice": false, "zero": false}, "axis": null},
                "text": {"field": "label"}
              }
            }
          ]
        }
      ]
    },
    {
      "title": {"text": "B", "anchor": "start", "fontSize": 28, "fontWeight": "bold", "offset": -23, "dx": -12},
      "resolve": {"scale": {"xOffset": "independent"}},
      "hconcat": [
        {
          "width": 481, "height": 364,
          "title": {"text": "Occipital", "offset": 28, "dx": 10},
          "resolve": {"scale": {"xOffset": "independent"}},
          "layer": [
            {
              "data": {"name": "box"},
              "transform": [{"filter": "datum.Region === 'Occipital'"}],
              "mark": {"type": "rule", "color": "#4d4d4d", "strokeWidth": 1},
              "encoding": {
                "x": {"field": "Accuracy", "type": "nominal", "sort": ["Correct", "Incorrect"], "scale": {"paddingInner": 0, "paddingOuter": 0.1}, "axis": {"title": "Accuracy", "labelAngle": 0}},
                "xOffset": {"field": "Contrast", "type": "nominal", "sort": ["1%", "1.5%"], "scale": {"type": "band", "paddingInner": 0.36, "paddingOuter": 0.43}},
                "y": {"field": "lo", "type": "quantitative", "scale": {"domain": [-0.565, 14.11], "nice": false, "zero": false}, "axis": {"title": "SNR at 6 Hz", "values": [0, 5, 10], "format": "d"}},
                "y2": {"field": "hi"}
              }
            },
            {
              "data": {"name": "pts"},
              "transform": [{"filter": "datum.Region === 'Occipital' && datum.Contrast === '1%'"}],
              "mark": {"type": "circle", "size": 34, "color": "#3d3d3d", "opacity": 0.75},
              "encoding": {
                "x": {"field": "Accuracy", "type": "nominal", "sort": ["Correct", "Incorrect"], "scale": {"paddingInner": 0, "paddingOuter": 0.1}, "axis": {"title": "Accuracy", "labelAngle": 0}},
                "xOffset": {"field": "jitter", "type": "quantitative", "scale": {"domain": [-0.15, 0.15], "range": [32.8, 98.4], "zero": false, "nice": false}},
                "y": {"field": "SNR", "type": "quantitative", "scale": {"domain": [-0.565, 14.11], "nice": false, "zero": false}, "axis": {"title": "SNR at 6 Hz", "values": [0, 5, 10], "format": "d"}}
              }
            },
            {
              "data": {"name": "pts"},
              "transform": [{"filter": "datum.Region === 'Occipital' && datum.Contrast === '1.5%'"}],
              "mark": {"type": "circle", "size": 34, "color": "#3d3d3d", "opacity": 0.75},
              "encoding": {
                "x": {"field": "Accuracy", "type": "nominal", "sort": ["Correct", "Incorrect"], "scale": {"paddingInner": 0, "paddingOuter": 0.1}, "axis": {"title": "Accuracy", "labelAngle": 0}},
                "xOffset": {"field": "jitter", "type": "quantitative", "scale": {"domain": [-0.15, 0.15], "range": [120.2, 185.8], "zero": false, "nice": false}},
                "y": {"field": "SNR", "type": "quantitative", "scale": {"domain": [-0.565, 14.11], "nice": false, "zero": false}, "axis": {"title": "SNR at 6 Hz", "values": [0, 5, 10], "format": "d"}}
              }
            },
            {
              "data": {"name": "box"},
              "transform": [{"filter": "datum.Region === 'Occipital'"}],
              "mark": {"type": "bar", "fillOpacity": 0.88, "stroke": "#3a3a3a", "strokeWidth": 1.3},
              "encoding": {
                "x": {"field": "Accuracy", "type": "nominal", "sort": ["Correct", "Incorrect"], "scale": {"paddingInner": 0, "paddingOuter": 0.1}, "axis": {"title": "Accuracy", "labelAngle": 0}},
                "xOffset": {"field": "Contrast", "type": "nominal", "sort": ["1%", "1.5%"], "scale": {"type": "band", "paddingInner": 0.36, "paddingOuter": 0.43}},
                "y": {"field": "q1", "type": "quantitative", "scale": {"domain": [-0.565, 14.11], "nice": false, "zero": false}, "axis": {"title": "SNR at 6 Hz", "values": [0, 5, 10], "format": "d"}},
                "y2": {"field": "q3"},
                "color": {"field": "Contrast", "type": "nominal", "scale": {"domain": ["1%", "1.5%"], "range": ["#0e0c62", "#9680dc"]}, "legend": {"title": "Contrast", "orient": "none", "legendX": 467, "legendY": 137}}
              }
            },
            {
              "data": {"name": "box"},
              "transform": [{"filter": "datum.Region === 'Occipital'"}],
              "mark": {"type": "tick", "color": "#3a3a3a", "thickness": 3, "size": 56, "opacity": 1},
              "encoding": {
                "x": {"field": "Accuracy", "type": "nominal", "sort": ["Correct", "Incorrect"], "scale": {"paddingInner": 0, "paddingOuter": 0.1}, "axis": {"title": "Accuracy", "labelAngle": 0}},
                "xOffset": {"field": "Contrast", "type": "nominal", "sort": ["1%", "1.5%"], "scale": {"type": "band", "paddingInner": 0.36, "paddingOuter": 0.43}},
                "y": {"field": "med", "type": "quantitative", "scale": {"domain": [-0.565, 14.11], "nice": false, "zero": false}, "axis": {"title": "SNR at 6 Hz", "values": [0, 5, 10], "format": "d"}}
              }
            },
            {
              "data": {"name": "box"},
              "transform": [{"filter": "datum.Region === 'Occipital'"}],
              "mark": {"type": "rule", "color": "#000000", "strokeWidth": 3},
              "encoding": {
                "x": {"field": "Accuracy", "type": "nominal", "sort": ["Correct", "Incorrect"], "scale": {"paddingInner": 0, "paddingOuter": 0.1}, "axis": {"title": "Accuracy", "labelAngle": 0}},
                "xOffset": {"field": "Contrast", "type": "nominal", "sort": ["1%", "1.5%"], "scale": {"type": "band", "paddingInner": 0.36, "paddingOuter": 0.43}},
                "y": {"field": "ciLo", "type": "quantitative", "scale": {"domain": [-0.565, 14.11], "nice": false, "zero": false}, "axis": {"title": "SNR at 6 Hz", "values": [0, 5, 10], "format": "d"}},
                "y2": {"field": "ciHi"}
              }
            },
            {
              "data": {"name": "box"},
              "transform": [{"filter": "datum.Region === 'Occipital'"}],
              "mark": {"type": "circle", "size": 70, "color": "#000000", "opacity": 1},
              "encoding": {
                "x": {"field": "Accuracy", "type": "nominal", "sort": ["Correct", "Incorrect"], "scale": {"paddingInner": 0, "paddingOuter": 0.1}, "axis": {"title": "Accuracy", "labelAngle": 0}},
                "xOffset": {"field": "Contrast", "type": "nominal", "sort": ["1%", "1.5%"], "scale": {"type": "band", "paddingInner": 0.36, "paddingOuter": 0.43}},
                "y": {"field": "mean", "type": "quantitative", "scale": {"domain": [-0.565, 14.11], "nice": false, "zero": false}, "axis": {"title": "SNR at 6 Hz", "values": [0, 5, 10], "format": "d"}}
              }
            },
            {
              "data": {"name": "sig"},
              "transform": [{"filter": "datum.Region === 'Occipital'"}],
              "mark": {"type": "rule", "color": "#444444", "strokeWidth": 1.2},
              "encoding": {
                "x": {"field": "from", "type": "nominal", "bandPosition": 0.66, "sort": ["Correct", "Incorrect"], "scale": {"paddingInner": 0, "paddingOuter": 0.1}, "axis": {"title": "Accuracy", "labelAngle": 0}},
                "x2": {"field": "to", "bandPosition": 0.82},
                "y": {"field": "y", "type": "quantitative", "scale": {"domain": [-0.565, 14.11], "nice": false, "zero": false}, "axis": {"title": "SNR at 6 Hz", "values": [0, 5, 10], "format": "d"}}
              }
            },
            {
              "data": {"name": "sig"},
              "transform": [{"filter": "datum.Region === 'Occipital'"}],
              "mark": {"type": "text", "fontSize": 20, "baseline": "middle", "color": "#000000"},
              "encoding": {
                "x": {"field": "to", "type": "nominal", "bandPosition": 0.28, "sort": ["Correct", "Incorrect"], "scale": {"paddingInner": 0, "paddingOuter": 0.1}, "axis": {"title": "Accuracy", "labelAngle": 0}},
                "y": {"field": "ly", "type": "quantitative", "scale": {"domain": [-0.565, 14.11], "nice": false, "zero": false}, "axis": {"title": "SNR at 6 Hz", "values": [0, 5, 10], "format": "d"}},
                "text": {"field": "label"}
              }
            }
          ]
        }
      ]
    }
  ],
  "config": {
    "font": "Liberation Sans",
    "view": {"stroke": null},
    "axis": {"grid": false, "domainColor": "#333333", "domainWidth": 1.3, "tickColor": "#333333", "tickSize": 4, "tickWidth": 1, "labelFont": "Liberation Sans", "titleFont": "Liberation Sans", "titleFontWeight": "normal", "titleColor": "#000000"},
    "axisX": {"labelFontSize": 19, "labelColor": "#111111", "titleFontSize": 19.5, "labelPadding": 3, "titlePadding": 4},
    "axisY": {"labelFontSize": 11.5, "labelColor": "#4d4d4d", "titleFontSize": 19, "labelPadding": 4, "titlePadding": 5},
    "title": {"font": "Liberation Sans", "fontSize": 21, "fontWeight": "normal", "color": "#000000"},
    "legend": {"titleFont": "Liberation Sans", "labelFont": "Liberation Sans", "titleFontSize": 17.5, "titleFontWeight": "normal", "titleColor": "#000000", "labelFontSize": 14, "labelColor": "#333333", "symbolType": "square", "symbolSize": 729, "symbolStrokeWidth": 0, "rowPadding": 0, "labelOffset": 9, "titlePadding": 8, "symbolOpacity": 1, "padding": 0}
  }
}
